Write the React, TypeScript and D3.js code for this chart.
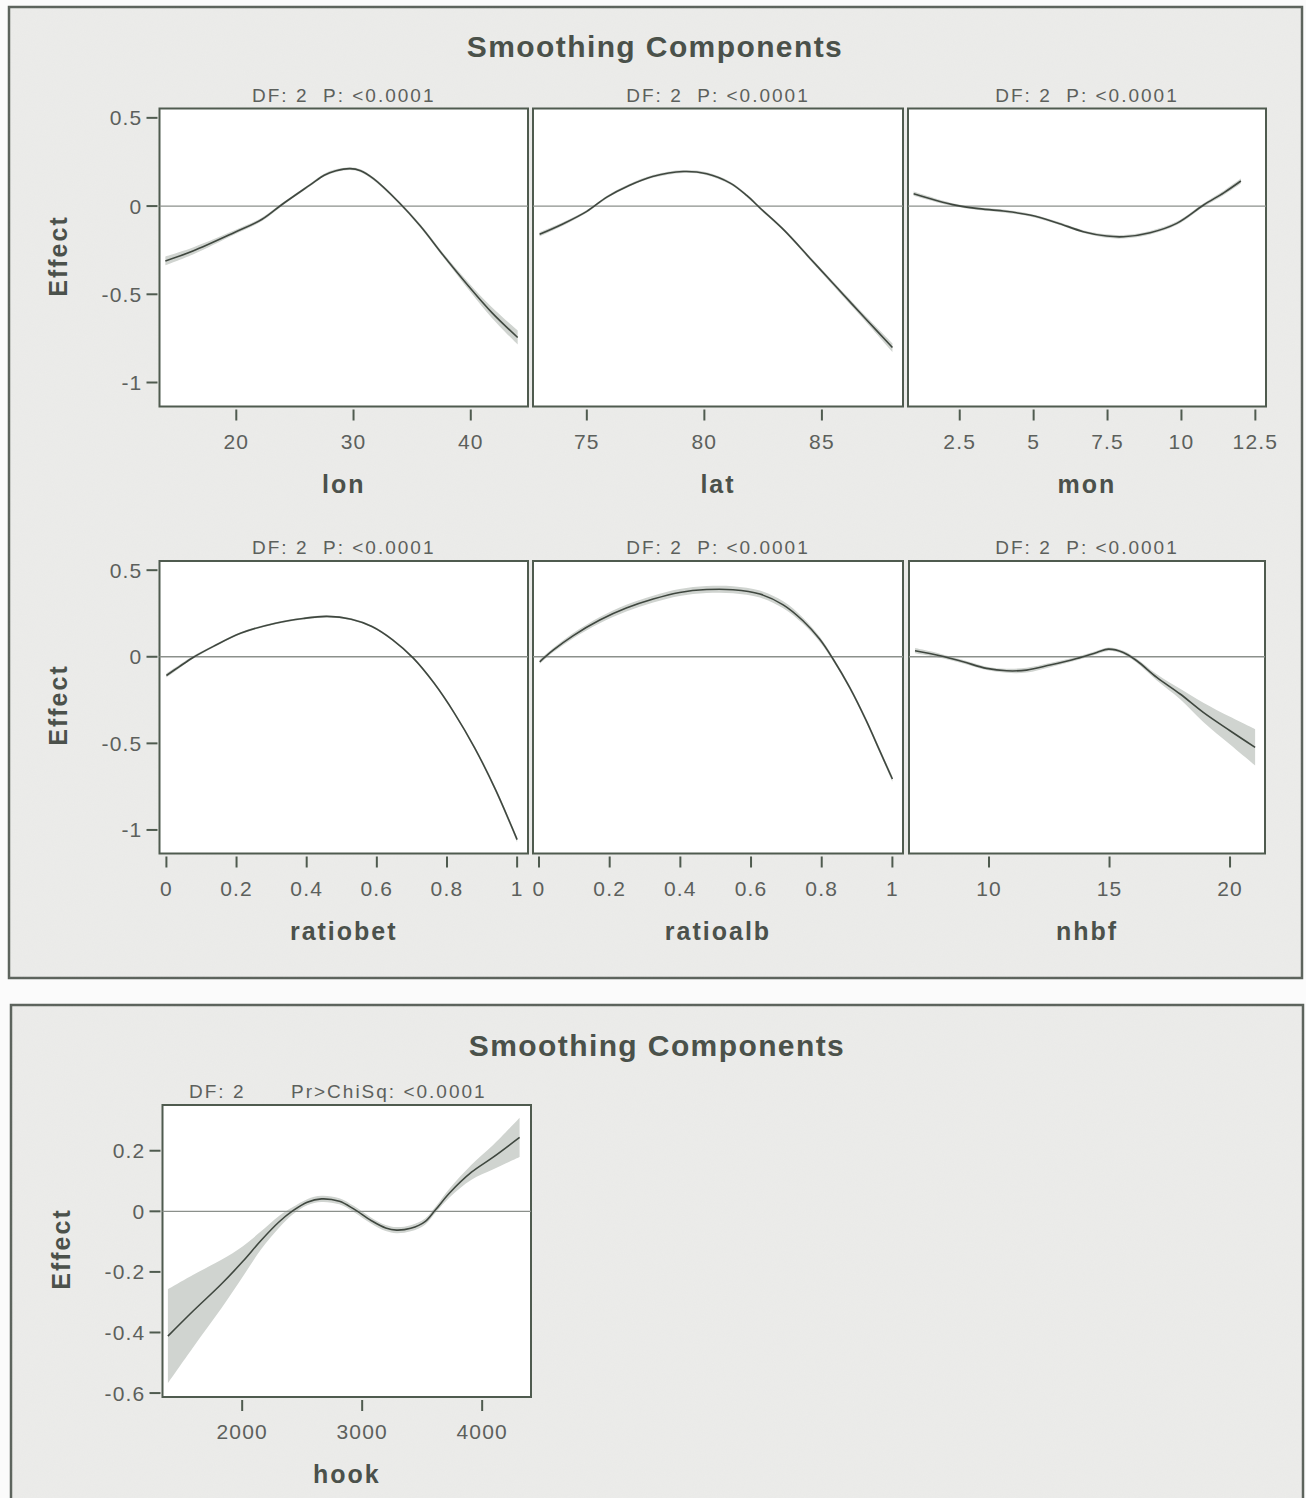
import React from 'react';
import * as d3 from 'd3';

// ---- smoothing component estimates (x, effect, half-width of the confidence band) ----
const lonX = [13.95, 16.3, 19.8, 22.2, 23.9, 26.3, 27.5, 28.5, 29.7, 30.6, 31.7, 33.9, 35.7, 37.7, 39.8, 41.8, 44.0];
const lonEffect = [-0.311, -0.255, -0.151, -0.075, 0.009, 0.12, 0.175, 0.2, 0.212, 0.2, 0.155, 0.019, -0.113, -0.283, -0.453, -0.604, -0.745];
const lonBand = [0.025, 0.02, 0.012, 0.01, 0.008, 0.008, 0.008, 0.008, 0.008, 0.008, 0.008, 0.008, 0.01, 0.012, 0.02, 0.03, 0.04];

const latX = [72.99, 74.0, 75.0, 75.85, 76.8, 77.8, 79.1, 80.1, 81.1, 81.8, 82.4, 83.4, 84.5, 85.5, 86.8, 88.0];
const latEffect = [-0.16, -0.1, -0.03, 0.051, 0.117, 0.168, 0.196, 0.183, 0.13, 0.06, -0.015, -0.138, -0.297, -0.442, -0.63, -0.802];
const latBand = [0.012, 0.01, 0.008, 0.008, 0.008, 0.008, 0.008, 0.008, 0.008, 0.008, 0.008, 0.008, 0.01, 0.012, 0.016, 0.025];

const monX = [0.94, 1.71, 2.39, 3.06, 3.97, 4.87, 5.78, 6.68, 7.47, 8.04, 8.94, 9.84, 10.75, 11.43, 12.01];
const monEffect = [0.07, 0.032, 0.004, -0.013, -0.028, -0.051, -0.094, -0.145, -0.17, -0.174, -0.151, -0.098, 0.006, 0.075, 0.142];
const monBand = [0.012, 0.01, 0.008, 0.008, 0.008, 0.008, 0.008, 0.008, 0.01, 0.01, 0.01, 0.01, 0.01, 0.012, 0.014];

const ratiobetX = [0, 0.036, 0.076, 0.134, 0.213, 0.311, 0.39, 0.458, 0.527, 0.586, 0.645, 0.704, 0.763, 0.821, 0.88, 0.939, 1.0];
const ratiobetEffect = [-0.108, -0.058, -0.004, 0.06, 0.137, 0.194, 0.221, 0.233, 0.217, 0.175, 0.098, -0.008, -0.152, -0.325, -0.53, -0.77, -1.056];
const ratiobetBand = [0.012, 0.01, 0.008, 0.006, 0.006, 0.006, 0.006, 0.006, 0.006, 0.006, 0.006, 0.006, 0.006, 0.008, 0.01, 0.012, 0.015];

const ratioalbX = [0.002, 0.04, 0.096, 0.172, 0.247, 0.323, 0.398, 0.474, 0.549, 0.625, 0.691, 0.747, 0.794, 0.832, 0.879, 0.926, 0.964, 1.0];
const ratioalbEffect = [-0.029, 0.038, 0.121, 0.212, 0.281, 0.333, 0.371, 0.388, 0.387, 0.362, 0.3, 0.208, 0.102, -0.013, -0.177, -0.369, -0.542, -0.706];
const ratioalbBand = [0.012, 0.012, 0.015, 0.018, 0.02, 0.02, 0.02, 0.02, 0.02, 0.02, 0.02, 0.018, 0.015, 0.012, 0.012, 0.012, 0.014, 0.016];

const nhbfX = [6.93, 7.97, 8.93, 9.9, 10.73, 11.56, 12.53, 13.64, 14.47, 14.95, 15.57, 16.13, 16.96, 17.93, 18.89, 20.0, 21.04];
const nhbfEffect = [0.035, 0.006, -0.029, -0.067, -0.081, -0.077, -0.048, -0.01, 0.025, 0.044, 0.025, -0.023, -0.119, -0.215, -0.321, -0.427, -0.523];
const nhbfBand = [0.015, 0.012, 0.01, 0.01, 0.012, 0.014, 0.012, 0.01, 0.01, 0.01, 0.01, 0.012, 0.018, 0.03, 0.055, 0.08, 0.105];

const hookX = [1381, 1589, 1827, 2006, 2155, 2304, 2423, 2542, 2661, 2810, 2929, 3077, 3196, 3286, 3405, 3524, 3613, 3732, 3911, 4089, 4312];
const hookEffect = [-0.412, -0.33, -0.24, -0.165, -0.097, -0.036, 0.002, 0.03, 0.041, 0.033, 0.008, -0.031, -0.055, -0.062, -0.056, -0.034, 0.006, 0.062, 0.129, 0.178, 0.244];
const hookBand = [0.155, 0.12, 0.08, 0.05, 0.03, 0.02, 0.012, 0.01, 0.01, 0.01, 0.01, 0.01, 0.01, 0.01, 0.01, 0.01, 0.01, 0.015, 0.025, 0.04, 0.065];

// ---- axis ticks and labels ----
const effectTicks = [0.5, 0, -0.5, -1];
const hookEffectTicks = [0.2, 0, -0.2, -0.4, -0.6];
const lonTicks = [20, 30, 40];
const latTicks = [75, 80, 85];
const monTicks = [2.5, 5, 7.5, 10, 12.5];
const ratioTicks = [0, 0.2, 0.4, 0.6, 0.8, 1];
const nhbfTicks = [10, 15, 20];
const hookTicks = [2000, 3000, 4000];

const pageTitle = 'Smoothing Components';
const panelStat = 'DF: 2  P: <0.0001';
const hookDF = 'DF: 2';
const hookP = 'Pr>ChiSq: <0.0001';
const yTitle = 'Effect';

const FONT = '"Liberation Sans", Arial, Helvetica, sans-serif';
const FRAME = '#4f5b4f';
const TICK_TXT = '#5c605c';
const LABEL_TXT = '#4b514b';

type PanelProps = {
  left: number; right: number; top: number; bottom: number;
  xDomain: [number, number]; yDomain: [number, number];
  xs: number[]; ys: number[]; band: number[];
  xTicks: number[]; yTicks?: number[];
  xLabel: string; stat?: string;
};

function Panel(p: PanelProps) {
  const x = d3.scaleLinear().domain(p.xDomain).range([p.left, p.right]);
  const y = d3.scaleLinear().domain(p.yDomain).range([p.bottom, p.top]);
  const pts = p.xs.map((v, i) => ({ x: v, y: p.ys[i], h: p.band[i] }));
  const curve = d3.curveCatmullRom.alpha(0.5);
  const area = d3.area<any>()
    .x(d => x(d.x)).y0(d => y(d.y - d.h)).y1(d => y(d.y + d.h))
    .curve(curve);
  const line = d3.line<any>().x(d => x(d.x)).y(d => y(d.y)).curve(curve);
  const cx = (p.left + p.right) / 2;
  return (
    <g>
      <rect x={p.left} y={p.top} width={p.right - p.left} height={p.bottom - p.top}
        fill="#ffffff" stroke={FRAME} strokeWidth={2} />
      <path d={area(pts) || ''} fill="#d0d4d0" />
      <line x1={p.left} x2={p.right} y1={y(0)} y2={y(0)} stroke="#8b908b" strokeWidth={1.3} />
      <path d={line(pts) || ''} fill="none" stroke="#3f473f" strokeWidth={1.6} />
      {p.xTicks.map(t => (
        <g key={'x' + t}>
          <line x1={x(t)} x2={x(t)} y1={p.bottom + 3} y2={p.bottom + 14} stroke={FRAME} strokeWidth={2} />
          <text x={x(t)} y={p.bottom + 42} textAnchor="middle" fontSize={21} letterSpacing={1.2}
            fill={TICK_TXT} fontFamily={FONT}>{String(t)}</text>
        </g>
      ))}
      {p.yTicks && p.yTicks.map(t => (
        <g key={'y' + t}>
          <line x1={p.left - 13} x2={p.left - 2} y1={y(t)} y2={y(t)} stroke={FRAME} strokeWidth={2} />
          <text x={p.left - 17} y={y(t) + 7.5} textAnchor="end" fontSize={21} letterSpacing={1.2}
            fill={TICK_TXT} fontFamily={FONT}>{String(t)}</text>
        </g>
      ))}
      <text x={cx} y={p.bottom + 86} textAnchor="middle" fontSize={25} fontWeight="bold"
        letterSpacing={2} fill={LABEL_TXT} fontFamily={FONT}>{p.xLabel}</text>
      {p.stat && (
        <text x={cx} y={p.top - 7} textAnchor="middle" fontSize={19} letterSpacing={2}
          fill={TICK_TXT} fontFamily={FONT} style={{ whiteSpace: 'pre' }}>{p.stat}</text>
      )}
    </g>
  );
}

function YTitle({ x, y }: { x: number; y: number }) {
  return (
    <text transform={`translate(${x},${y}) rotate(-90)`} textAnchor="middle" fontSize={25}
      fontWeight="bold" letterSpacing={2} fill={LABEL_TXT} fontFamily={FONT}>{yTitle}</text>
  );
}

export default function App() {
  const W = 1306, H = 1498;
  const mainY: [number, number] = [-1.136, 0.553];
  const row1 = { top: 108.5, bottom: 406.5 };
  const row2 = { top: 561, bottom: 853.5 };
  return (
    <svg width={W} height={H} viewBox={`0 0 ${W} ${H}`}
      style={{ position: 'absolute', left: 0, top: 0, display: 'block' }}>
      <defs>
        <filter id="grain" x="0" y="0" width="100%" height="100%">
          <feTurbulence type="fractalNoise" baseFrequency="0.9" numOctaves={2} seed={3} result="n" />
          <feColorMatrix type="matrix" values="0 0 0 0 0.5  0 0 0 0 0.52  0 0 0 0 0.5  0 0 0 0.05 0" />
          <feComposite in2="SourceGraphic" operator="in" />
        </filter>
      </defs>
      <rect x={0} y={0} width={W} height={H} fill="#fbfbfb" />
      {/* upper graph container */}
      <rect x={9} y={7} width={1293} height={971} fill="#ececea" stroke="#5c635c" strokeWidth={2.5} />
      <rect x={9} y={7} width={1293} height={971} filter="url(#grain)" />
      {/* lower graph container */}
      <rect x={11} y={1005} width={1292} height={520} fill="#ececea" stroke="#5c635c" strokeWidth={2.5} />
      <rect x={11} y={1005} width={1292} height={520} filter="url(#grain)" />

      <text x={655} y={57} textAnchor="middle" fontSize={30} fontWeight="bold" letterSpacing={1.4}
        fill="#4a514a" fontFamily={FONT}>{pageTitle}</text>
      <text x={657} y={1056} textAnchor="middle" fontSize={30} fontWeight="bold" letterSpacing={1.4}
        fill="#4a514a" fontFamily={FONT}>{pageTitle}</text>

      <Panel left={159.5} right={528} {...row1} xDomain={[13.45, 44.88]} yDomain={mainY}
        xs={lonX} ys={lonEffect} band={lonBand} xTicks={lonTicks} yTicks={effectTicks}
        xLabel="lon" stat={panelStat} />
      <Panel left={533} right={903} {...row1} xDomain={[72.71, 88.45]} yDomain={mainY}
        xs={latX} ys={latEffect} band={latBand} xTicks={latTicks} xLabel="lat" stat={panelStat} />
      <Panel left={908} right={1266} {...row1} xDomain={[0.75, 12.86]} yDomain={mainY}
        xs={monX} ys={monEffect} band={monBand} xTicks={monTicks} xLabel="mon" stat={panelStat} />

      <Panel left={159.5} right={528} {...row2} xDomain={[-0.0197, 1.031]} yDomain={mainY}
        xs={ratiobetX} ys={ratiobetEffect} band={ratiobetBand} xTicks={ratioTicks} yTicks={effectTicks}
        xLabel="ratiobet" stat={panelStat} />
      <Panel left={533} right={903} {...row2} xDomain={[-0.017, 1.03]} yDomain={mainY}
        xs={ratioalbX} ys={ratioalbEffect} band={ratioalbBand} xTicks={ratioTicks}
        xLabel="ratioalb" stat={panelStat} />
      <Panel left={909} right={1265} {...row2} xDomain={[6.68, 21.45]} yDomain={mainY}
        xs={nhbfX} ys={nhbfEffect} band={nhbfBand} xTicks={nhbfTicks} xLabel="nhbf" stat={panelStat} />

      <YTitle x={67} y={256} />
      <YTitle x={67} y={705} />

      <Panel left={162.5} right={531} top={1105} bottom={1397} xDomain={[1336, 4407]}
        yDomain={[-0.613, 0.351]} xs={hookX} ys={hookEffect} band={hookBand}
        xTicks={hookTicks} yTicks={hookEffectTicks} xLabel="hook" />
      <text x={189} y={1098} fontSize={19} letterSpacing={2} fill={TICK_TXT} fontFamily={FONT}>{hookDF}</text>
      <text x={291} y={1098} fontSize={19} letterSpacing={2} fill={TICK_TXT} fontFamily={FONT}>{hookP}</text>
      <YTitle x={70} y={1249} />
    </svg>
  );
}
